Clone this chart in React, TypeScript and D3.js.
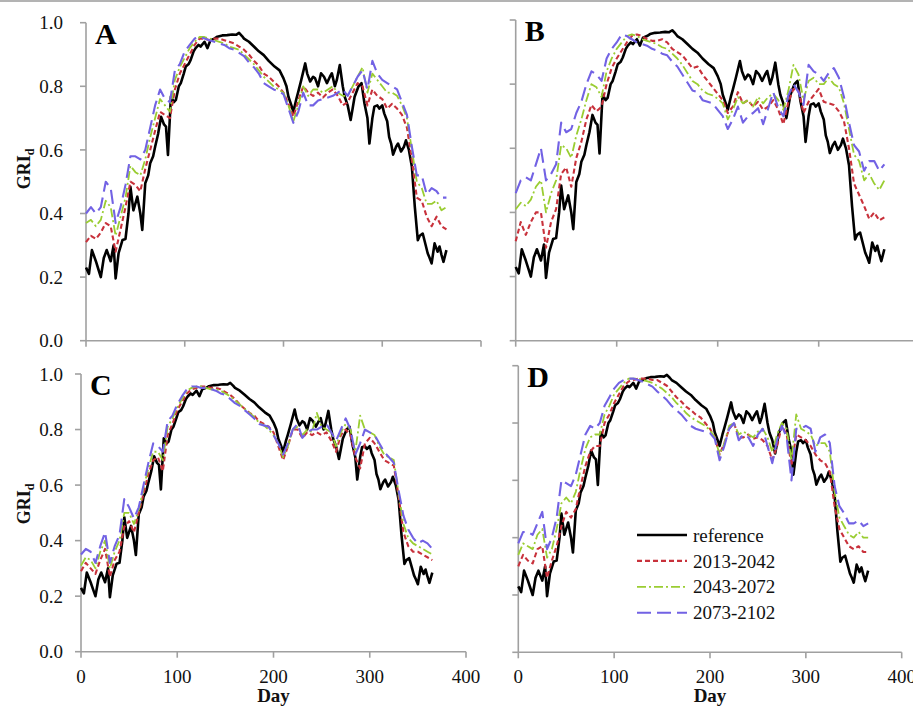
import React from 'react';
import * as d3 from 'd3';

// ---------- data ----------
const refDays = [0,3,6,10,13,15,18,21,25,28,30,33,37,40,43,45,48,52,55,57,60,63,65,68,70,73,76,79,81,83,86,89,91,94,96,99,101,104,106,109,111,114,116,120,123,126,130,133,138,143,148,152,155,158,160,165,170,175,180,185,191,196,200,203,205,208,210,213,215,218,222,224,227,230,232,235,238,241,244,247,249,252,254,257,260,262,265,268,270,272,276,279,282,285,287,290,292,295,297,300,302,305,307,309,311,314,316,319,322,324,327,330,333,336,338,341,344,346,348,350,353,356,358,360,362,365];
const refValues = [0.23,0.21,0.285,0.25,0.22,0.20,0.26,0.285,0.25,0.30,0.196,0.275,0.317,0.32,0.40,0.484,0.41,0.453,0.40,0.348,0.495,0.52,0.558,0.58,0.61,0.65,0.704,0.68,0.673,0.584,0.768,0.75,0.757,0.80,0.81,0.84,0.862,0.87,0.883,0.91,0.92,0.93,0.925,0.94,0.92,0.945,0.95,0.956,0.96,0.961,0.963,0.962,0.968,0.958,0.95,0.94,0.925,0.91,0.898,0.88,0.862,0.85,0.825,0.80,0.767,0.74,0.72,0.76,0.783,0.82,0.872,0.84,0.815,0.83,0.825,0.80,0.841,0.83,0.81,0.83,0.841,0.80,0.82,0.867,0.80,0.767,0.74,0.694,0.73,0.767,0.80,0.81,0.746,0.70,0.62,0.70,0.736,0.74,0.73,0.74,0.715,0.69,0.64,0.62,0.585,0.61,0.62,0.595,0.61,0.63,0.60,0.547,0.42,0.316,0.33,0.337,0.30,0.275,0.26,0.243,0.306,0.28,0.296,0.27,0.248,0.285];

const days = [0,5,10,15,20,25,30,35,40,45,50,55,60,65,70,75,80,85,90,95,100,105,110,115,120,125,130,135,140,145,150,155,160,165,170,175,180,185,190,195,200,205,210,215,220,225,230,235,240,245,250,255,260,265,270,275,280,285,290,295,300,305,310,315,320,325,330,335,340,345,350,355,360,365];

const A_2013 = [.31,.33,.32,.34,.37,.36,.28,.35,.42,.50,.49,.47,.54,.60,.66,.72,.71,.70,.79,.84,.87,.90,.93,.95,.95,.945,.95,.95,.945,.94,.935,.925,.915,.90,.88,.865,.84,.83,.815,.80,.78,.745,.705,.755,.80,.78,.77,.78,.765,.78,.79,.77,.74,.75,.78,.81,.80,.74,.79,.77,.76,.73,.745,.73,.71,.67,.57,.45,.44,.39,.36,.39,.36,.35];
const A_2043 = [.37,.38,.36,.38,.44,.42,.33,.39,.45,.55,.53,.52,.57,.64,.70,.76,.74,.72,.82,.86,.89,.92,.94,.955,.955,.95,.945,.94,.935,.925,.92,.915,.90,.885,.87,.85,.83,.815,.80,.79,.78,.74,.69,.74,.80,.77,.79,.79,.78,.79,.80,.78,.77,.77,.80,.83,.86,.78,.84,.82,.80,.78,.78,.77,.74,.70,.60,.50,.48,.43,.43,.44,.41,.42];
const A_2073 = [.40,.42,.40,.42,.50,.48,.37,.42,.49,.58,.58,.57,.60,.67,.74,.79,.76,.75,.85,.87,.91,.93,.95,.955,.95,.945,.94,.935,.93,.92,.915,.905,.895,.875,.86,.84,.81,.80,.79,.785,.775,.73,.685,.72,.78,.74,.74,.755,.76,.765,.77,.78,.79,.77,.80,.83,.85,.79,.88,.84,.82,.81,.80,.79,.75,.71,.61,.52,.52,.46,.48,.47,.45,.45];

const B_2013 = [.31,.37,.33,.37,.40,.40,.29,.37,.41,.52,.54,.48,.57,.62,.69,.735,.715,.73,.80,.85,.88,.905,.93,.95,.955,.95,.94,.935,.935,.94,.93,.91,.90,.89,.87,.85,.855,.83,.81,.79,.77,.75,.71,.73,.775,.74,.75,.73,.745,.72,.73,.75,.72,.675,.745,.785,.78,.71,.745,.765,.785,.745,.74,.735,.715,.685,.60,.49,.455,.42,.38,.40,.375,.385];
const B_2043 = [.41,.43,.42,.44,.48,.50,.40,.46,.50,.61,.60,.57,.64,.69,.75,.80,.79,.76,.84,.88,.91,.93,.95,.955,.95,.94,.935,.93,.925,.915,.91,.895,.88,.86,.835,.81,.80,.78,.77,.765,.755,.74,.69,.72,.76,.74,.75,.73,.76,.74,.76,.77,.75,.72,.78,.86,.83,.75,.81,.82,.80,.80,.82,.80,.79,.74,.66,.58,.56,.50,.52,.49,.47,.50];
const B_2073 = [.46,.50,.51,.50,.55,.60,.50,.52,.55,.68,.65,.66,.71,.745,.80,.84,.83,.81,.88,.91,.93,.955,.95,.94,.93,.925,.92,.91,.905,.895,.89,.87,.855,.83,.805,.78,.775,.75,.745,.74,.72,.70,.66,.69,.73,.68,.70,.71,.725,.675,.725,.775,.725,.70,.765,.80,.775,.735,.86,.84,.83,.81,.835,.85,.82,.76,.68,.61,.59,.53,.56,.56,.53,.55];

const C_2013 = [.29,.32,.30,.28,.33,.37,.27,.33,.36,.45,.47,.43,.50,.57,.64,.69,.70,.65,.78,.82,.87,.90,.93,.945,.95,.955,.955,.95,.95,.945,.935,.925,.91,.89,.875,.86,.85,.83,.82,.81,.79,.74,.69,.74,.80,.80,.77,.79,.78,.79,.78,.79,.76,.72,.78,.80,.78,.70,.66,.75,.77,.75,.72,.69,.68,.67,.56,.43,.38,.36,.36,.35,.34,.33];
const C_2043 = [.31,.34,.33,.30,.36,.40,.30,.36,.40,.50,.50,.46,.51,.59,.66,.72,.72,.69,.81,.84,.88,.91,.94,.95,.955,.955,.95,.945,.945,.94,.93,.92,.905,.89,.875,.86,.845,.825,.815,.80,.78,.75,.70,.74,.80,.81,.78,.80,.79,.86,.81,.80,.79,.74,.79,.82,.80,.72,.85,.80,.79,.78,.74,.71,.70,.69,.57,.46,.41,.39,.38,.37,.36,.35];
const C_2073 = [.35,.37,.36,.32,.38,.43,.32,.38,.42,.55,.52,.48,.52,.60,.68,.75,.74,.72,.83,.85,.89,.92,.945,.955,.955,.95,.95,.945,.94,.93,.925,.91,.895,.885,.87,.855,.84,.82,.815,.81,.78,.75,.71,.75,.80,.82,.77,.79,.80,.80,.81,.82,.79,.76,.80,.84,.80,.71,.75,.80,.79,.78,.75,.72,.70,.68,.58,.49,.44,.41,.39,.40,.39,.37];

const D_2013 = [.30,.34,.32,.31,.36,.37,.26,.32,.37,.44,.49,.47,.50,.58,.65,.70,.72,.72,.80,.83,.87,.90,.93,.945,.95,.955,.955,.955,.95,.95,.94,.93,.91,.89,.875,.857,.845,.83,.82,.80,.78,.75,.69,.73,.78,.80,.75,.75,.76,.745,.75,.74,.72,.67,.72,.79,.76,.65,.76,.75,.74,.72,.69,.67,.66,.63,.51,.43,.40,.37,.36,.37,.35,.35];
const D_2043 = [.34,.38,.37,.36,.41,.43,.33,.36,.43,.52,.54,.52,.56,.64,.71,.75,.76,.76,.83,.86,.90,.92,.94,.955,.955,.955,.95,.945,.94,.93,.92,.905,.89,.87,.855,.835,.82,.81,.80,.79,.775,.75,.69,.73,.79,.80,.76,.77,.76,.75,.77,.78,.75,.70,.76,.80,.78,.67,.83,.78,.77,.76,.72,.73,.73,.70,.56,.47,.44,.41,.40,.42,.40,.40];
const D_2073 = [.38,.42,.42,.41,.45,.49,.36,.40,.47,.60,.59,.58,.62,.69,.76,.79,.78,.80,.86,.89,.92,.94,.95,.955,.955,.95,.944,.935,.927,.91,.895,.88,.86,.845,.83,.81,.79,.78,.775,.77,.765,.745,.67,.72,.78,.80,.74,.76,.75,.72,.76,.78,.72,.66,.74,.79,.75,.60,.78,.78,.79,.78,.70,.75,.76,.73,.58,.51,.485,.45,.45,.46,.44,.45];

const yTicks = [0, 0.2, 0.4, 0.6, 0.8, 1.0];
const xTicks = [0, 100, 200, 300, 400];
const seriesNames = ['reference', '2013-2042', '2043-2072', '2073-2102'];

// ---------- styles ----------
const styles = [
  { color: '#000000', width: 2.6, dash: '' },
  { color: '#c8313b', width: 2.1, dash: '5 3' },
  { color: '#9acd32', width: 1.8, dash: '9 3 2 3' },
  { color: '#7262e4', width: 2.1, dash: '14 6' },
];

const FONT = '"Liberation Serif", "Times New Roman", serif';
const AXIS = '#a0a0a0';

type PanelCfg = {
  letter: string;
  x0: number; x1: number; yb: number; yt: number;
  showY: boolean; showX: boolean; legend: boolean;
  s2013: number[]; s2043: number[]; s2073: number[];
  labelCy: number;
};

const panels: PanelCfg[] = [
  { letter: 'A', x0: 86, x1: 481, yb: 340.7, yt: 22.7, showY: true, showX: false, legend: false, s2013: A_2013, s2043: A_2043, s2073: A_2073, labelCy: 169 },
  { letter: 'B', x0: 515.7, x1: 919.7, yb: 340.7, yt: 20, showY: false, showX: false, legend: false, s2013: B_2013, s2043: B_2043, s2073: B_2073, labelCy: 169 },
  { letter: 'C', x0: 81, x1: 466, yb: 651.7, yt: 374, showY: true, showX: true, legend: false, s2013: C_2013, s2043: C_2043, s2073: C_2073, labelCy: 504 },
  { letter: 'D', x0: 518.3, x1: 901.7, yb: 652.3, yt: 365.7, showY: false, showX: true, legend: true, s2013: D_2013, s2043: D_2043, s2073: D_2073, labelCy: 504 },
];

function Panel({ p }: { p: PanelCfg }) {
  const x = d3.scaleLinear().domain([0, 400]).range([p.x0, p.x1]);
  const y = d3.scaleLinear().domain([0, 1]).range([p.yb, p.yt]);
  const line = d3.line<[number, number]>().x(d => x(d[0])).y(d => y(d[1]));
  const refPts: [number, number][] = refDays.map((d, i) => [d, refValues[i]]);
  const mk = (arr: number[]): [number, number][] => days.map((d, i) => [d, arr[i]]);
  const all = [refPts, mk(p.s2013), mk(p.s2043), mk(p.s2073)];
  const fmt = d3.format('.1f');
  return (
    <g>
      <line x1={p.x0} x2={p.x0} y1={p.yt} y2={p.yb} stroke={AXIS} strokeWidth={1.6} />
      <line x1={p.x0} x2={p.x1} y1={p.yb} y2={p.yb} stroke={AXIS} strokeWidth={1.6} />
      {yTicks.map(t => (
        <g key={'y' + t}>
          <line x1={p.x0 - 6} x2={p.x0} y1={y(t)} y2={y(t)} stroke={AXIS} strokeWidth={1.6} />
          {p.showY && (
            <text x={63} y={y(t)} dy="0.35em" textAnchor="end" fontFamily={FONT} fontSize={19} fill="#111">{fmt(t)}</text>
          )}
        </g>
      ))}
      {xTicks.map(t => (
        <g key={'x' + t}>
          <line x1={x(t)} x2={x(t)} y1={p.yb} y2={p.yb + 6} stroke={AXIS} strokeWidth={1.6} />
          {p.showX && (
            <text x={x(t)} y={683} textAnchor="middle" fontFamily={FONT} fontSize={19} fill="#111">{t}</text>
          )}
        </g>
      ))}
      {p.showX && (
        <text x={x(200)} y={702} textAnchor="middle" fontFamily={FONT} fontSize={19} fontWeight="bold" fill="#111">Day</text>
      )}
      {p.showY && (
        <text transform={`translate(30, ${p.labelCy}) rotate(-90)`} textAnchor="middle" fontFamily={FONT} fontSize={18} fontWeight="bold" fill="#111">
          GRI<tspan fontSize={12} dy={4}>d</tspan>
        </text>
      )}
      {all.map((pts, i) => (
        <path key={i} d={line(pts) || ''} fill="none" stroke={styles[i].color} strokeWidth={styles[i].width}
          strokeDasharray={styles[i].dash || undefined} strokeLinejoin="round" />
      ))}
      <text x={p.x0 + 9} y={p.yt + 21} fontFamily={FONT} fontSize={30} fontWeight="bold" fill="#000">{p.letter}</text>
      {p.legend && (
        <g>
          {seriesNames.map((n, i) => {
            const ly = 535 + i * 25.9;
            return (
              <g key={n}>
                <line x1={637} x2={687} y1={ly} y2={ly} stroke={styles[i].color} strokeWidth={styles[i].width}
                  strokeDasharray={styles[i].dash || undefined} />
                <text x={693} y={ly} dy="0.35em" fontFamily={FONT} fontSize={19} fill="#111">{n}</text>
              </g>
            );
          })}
        </g>
      )}
    </g>
  );
}

export default function App() {
  return (
    <div style={{ position: 'absolute', left: 0, top: 0 }}>
      <svg width={913} height={706} style={{ display: 'block', background: '#fff' }}>
        <rect x={0} y={0} width={913} height={706} fill="#fff" />
        <line x1={0} x2={913} y1={1} y2={1} stroke="#9a9a9a" strokeWidth={1.5} />
        {panels.map(p => <Panel key={p.letter} p={p} />)}
      </svg>
    </div>
  );
}
